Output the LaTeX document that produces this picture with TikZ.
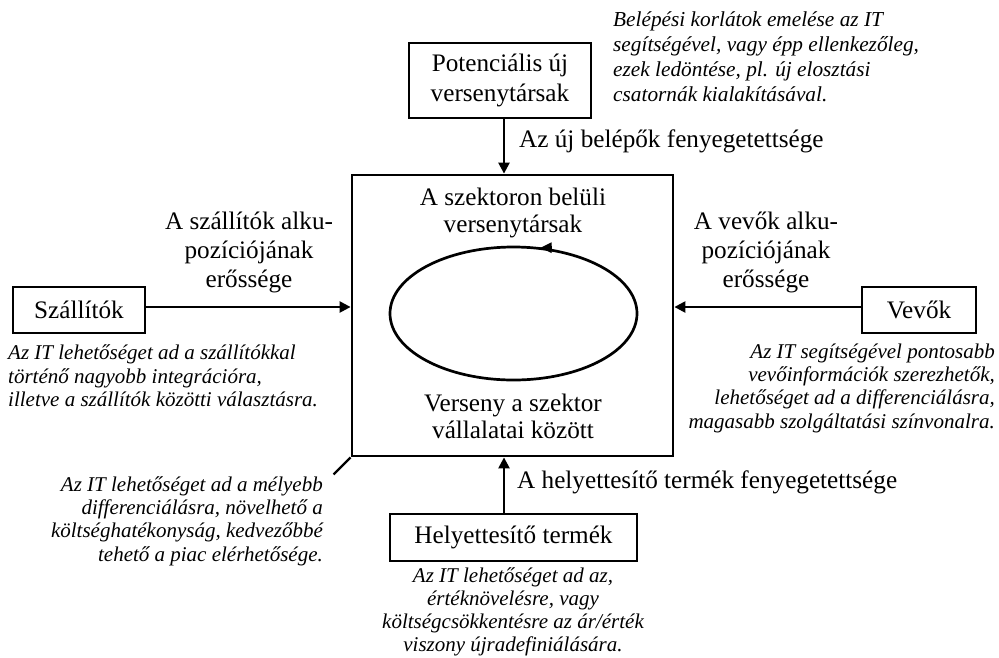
\documentclass[tikz,border=0pt]{standalone}
\usepackage{fontspec}
\setmainfont{Liberation Serif}
\usetikzlibrary{arrows.meta,shapes.geometric}
\begin{document}
\begin{tikzpicture}[x=1pt,y=-1pt,
  force/.style={draw, line width=2.8pt, inner sep=0pt, font=\fontsize{25.2}{29.5}\selectfont, align=center},
  lbl/.style={inner sep=0pt, font=\fontsize{25.2}{29}\selectfont, align=center},
  inlbl/.style={inner sep=0pt, font=\fontsize{25.2}{27}\selectfont, align=center},
  note/.style={inner sep=0pt, font=\fontsize{21}{23.3}\selectfont\itshape},
  push/.style={line width=2.4pt, -{Triangle[length=11pt,width=11pt]}}]
\useasboundingbox (0,0) rectangle (999,657);

% central box: rivalry among existing competitors
\node[force, minimum width=321pt, minimum height=281pt] (comp) at (512.5,315.5) {};
\node[draw, ellipse, line width=2.7pt, minimum width=247pt, minimum height=133pt, inner sep=0pt] (cyc) at (513.5,313.5) {};
\draw[line width=2.5pt, -{Triangle[length=11pt,width=10pt]}]
  ([xshift=38pt,yshift=-2pt]cyc.north) -- ([xshift=27pt,yshift=-2pt]cyc.north);
\node[inlbl] (rivtxt) at (513,213) {A szektoron belüli\\versenytársak};
\node[inlbl] (comptxt) at (513,416) {Verseny a szektor\\vállalatai között};

% the four outer forces
\node[force, minimum width=182pt, minimum height=75pt] (entr) at (500,80.5) {Potenciális új\\versenytársak};
\node[force, minimum width=132pt, minimum height=46pt] (szall) at (79,310) {Szállítók};
\node[force, minimum width=114pt, minimum height=46pt] (vevo) at (919,310) {Vevők};
\node[force, minimum width=247pt, minimum height=47pt] (hely) at (513.5,537.5) {Helyettesítő termék};

% connectors
\coordinate (ax) at (504,0);
\coordinate (ay) at (0,307);
\draw[push] (entr.south -| ax) -- (comp.north -| ax);
\draw[push] (hely.north -| ax) -- (comp.south -| ax);
\draw[push] (szall.east |- ay) -- (comp.west |- ay);
\draw[push] (vevo.west |- ay) -- (comp.east |- ay);
\draw[line width=2.4pt] (comp.south west) -- ++(-17,17);

% arrow labels
\node[lbl, anchor=west] (newlbl) at (519,141) {Az új belépők fenyegetettsége};
\node[lbl, anchor=west] (sublbl) at (517,482) {A helyettesítő termék fenyegetettsége};
\node[lbl] (suplbl) at (249,252) {A szállítók alku-\\pozíciójának\\erőssége};
\node[lbl] (buylbl) at (766,252) {A vevők alku-\\pozíciójának\\erőssége};

% notes on the role of IT
\node[note, align=left, anchor=west, font=\fontsize{21.3}{25}\selectfont\itshape] (n1) at (613,57)
  {Belépési korlátok emelése az IT\\segítségével, vagy épp ellenkezőleg,\\ezek ledöntése, pl. új elosztási\\csatornák kialakításával.};
\node[note, align=left, anchor=west] (n2) at (8,376)
  {Az IT lehetőséget ad a szállítókkal\\történő nagyobb integrációra,\\illetve a szállítók közötti választásra.};
\node[note, align=right, anchor=east] (n3) at (995,388)
  {Az IT segítségével pontosabb\\vevőinformációk szerezhetők,\\lehetőséget ad a differenciálásra,\\magasabb szolgáltatási színvonalra.};
\node[note, align=right, anchor=east] (n4) at (323,521)
  {Az IT lehetőséget ad a mélyebb\\differenciálásra, növelhető a\\költséghatékonyság, kedvezőbbé\\tehető a piac elérhetősége.};
\node[note, align=center, font=\fontsize{21}{22.8}\selectfont\itshape] (n5) at (513,612)
  {Az IT lehetőséget ad az,\\értéknövelésre, vagy\\költségcsökkentésre az ár/érték\\viszony újradefiniálására.};
\end{tikzpicture}
\end{document}
